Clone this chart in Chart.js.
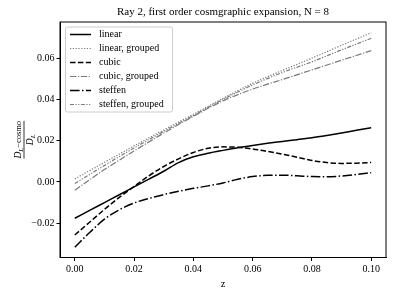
<!DOCTYPE html>
<html><head><meta charset="utf-8">
<script src="https://cdn.jsdelivr.net/npm/chart.js@4.4.1/dist/chart.umd.min.js"></script>
<style>html,body{margin:0;padding:0;background:#fff}#wrap{width:396px;height:297px}</style>
</head><body><div id="wrap"><canvas id="c" width="396" height="297"></canvas></div>
<script>
const titleText = 'Ray 2, first order cosmgraphic expansion, N = 8';
const xAxisLabel = 'z';
const xTicks = [0, 0.02, 0.04, 0.06, 0.08, 0.10];
const yTicks = [-0.02, 0, 0.02, 0.04, 0.06];
const seriesNames = ['linear', 'linear, grouped', 'cubic', 'cubic, grouped', 'steffen', 'steffen, grouped'];

const zFine = [0, 0.005, 0.01, 0.015, 0.02, 0.025, 0.03, 0.035, 0.04, 0.045, 0.05,
               0.055, 0.06, 0.065, 0.07, 0.075, 0.08, 0.085, 0.09, 0.095, 0.1];
const linearVals  = [-0.0176, -0.0138, -0.0100, -0.0062, -0.0024, 0.0014, 0.0052, 0.0094, 0.0122, 0.0139, 0.0153,
                     0.0166, 0.0177, 0.0187, 0.0196, 0.0205, 0.0214, 0.0225, 0.0237, 0.0250, 0.0263];
const cubicVals   = [-0.0257, -0.0195, -0.0133, -0.0075, -0.0022, 0.0030, 0.0075, 0.0112, 0.0143, 0.0163, 0.0170,
                     0.0168, 0.0160, 0.0148, 0.0135, 0.0120, 0.0104, 0.0094, 0.0090, 0.0091, 0.0094];
const steffenVals = [-0.0316, -0.0245, -0.0180, -0.0135, -0.0102, -0.0080, -0.0061, -0.0045, -0.0031, -0.0019, -0.0005,
                     0.0013, 0.0026, 0.0032, 0.0033, 0.0030, 0.0026, 0.0025, 0.0029, 0.0036, 0.0045];

const zCoarse = [0, 0.01, 0.02, 0.03, 0.04, 0.05, 0.06, 0.07, 0.08, 0.09, 0.1];
const linearGroupedVals  = [0.0015, 0.0095, 0.0175, 0.0252, 0.0328, 0.0405, 0.0478, 0.0540, 0.0600, 0.0662, 0.0723];
const cubicGroupedVals   = [-0.0040, 0.0060, 0.0150, 0.0237, 0.0318, 0.0393, 0.0450, 0.0496, 0.0543, 0.0590, 0.0636];
const steffenGroupedVals = [-0.0008, 0.0080, 0.0165, 0.0245, 0.0322, 0.0400, 0.0470, 0.0530, 0.0582, 0.0640, 0.0696];

const SERIF = '"Liberation Serif", "DejaVu Serif", serif';
const pts = (xs, ys) => xs.map((x, i) => ({x: x, y: ys[i]}));

const styles = [
  {c: '#000000', w: 1.5, d: []},
  {c: '#7a7a7a', w: 1.2, d: [1.2, 1.6]},
  {c: '#000000', w: 1.5, d: [5.5, 2.4]},
  {c: '#7a7a7a', w: 1.2, d: [6.4, 1.6, 1.2, 1.6]},
  {c: '#000000', w: 1.5, d: [9.6, 2.4, 1.5, 2.4]},
  {c: '#7a7a7a', w: 1.2, d: [4, 1.5, 1.2, 1.5, 1.2, 1.5]}
];
const dataArrays = [
  pts(zFine, linearVals), pts(zCoarse, linearGroupedVals),
  pts(zFine, cubicVals), pts(zCoarse, cubicGroupedVals),
  pts(zFine, steffenVals), pts(zCoarse, steffenGroupedVals)
];

const datasets = seriesNames.map((n, i) => ({
  label: n, data: dataArrays[i], borderColor: styles[i].c, borderWidth: styles[i].w,
  borderDash: styles[i].d, pointRadius: 0, fill: false, tension: 0.3, cubicInterpolationMode: 'monotone'
}));

const decor = {
  id: 'decor',
  afterDraw(chart) {
    const ctx = chart.ctx, a = chart.chartArea;
    ctx.save();
    ctx.strokeStyle = '#000'; ctx.lineWidth = 1; ctx.setLineDash([]);
    ctx.strokeRect(a.left, a.top, a.right - a.left, a.bottom - a.top);
    ctx.fillStyle = '#000'; ctx.textAlign = 'center'; ctx.textBaseline = 'middle';
    ctx.font = '11px ' + SERIF;
    ctx.fillText(titleText, (a.left + a.right) / 2, 12);
    ctx.font = '10.5px ' + SERIF;
    ctx.fillText(xAxisLabel, (a.left + a.right) / 2, 284);
    ctx.save();
    ctx.translate(24, (a.top + a.bottom) / 2);
    ctx.rotate(-Math.PI / 2);
    ctx.textBaseline = 'alphabetic';
    ctx.textAlign = 'left';
    const numParts = [['italic 9.5px ' + SERIF, 'D', 0], ['italic 7px ' + SERIF, 'L', 2], ['8.5px ' + SERIF, '\u2212cosmo', 0]];
    let w = 0;
    numParts.forEach(p => { ctx.font = p[0]; w += ctx.measureText(p[1]).width; });
    let x = -w / 2;
    numParts.forEach(p => { ctx.font = p[0]; ctx.fillText(p[1], x, -3 + p[2]); x += ctx.measureText(p[1]).width; });
    ctx.fillRect(-w / 2, -0.4, w, 0.8);
    const denParts = [['italic 9.5px ' + SERIF, 'D', 0], ['italic 7px ' + SERIF, 'L', 2]];
    let w2 = 0;
    denParts.forEach(p => { ctx.font = p[0]; w2 += ctx.measureText(p[1]).width; });
    x = -w2 / 2;
    denParts.forEach(p => { ctx.font = p[0]; ctx.fillText(p[1], x, 8.5 + p[2]); x += ctx.measureText(p[1]).width; });
    ctx.restore();
    const lx = 65.5, ly = 27, lw = 107, lh = 85;
    ctx.fillStyle = 'rgba(255,255,255,0.8)';
    ctx.strokeStyle = '#cccccc'; ctx.lineWidth = 1;
    ctx.beginPath();
    if (ctx.roundRect) ctx.roundRect(lx, ly, lw, lh, 2); else ctx.rect(lx, ly, lw, lh);
    ctx.fill(); ctx.stroke();
    ctx.font = '10px ' + SERIF; ctx.textAlign = 'left'; ctx.textBaseline = 'middle';
    seriesNames.forEach((n, i) => {
      const y = 34.5 + i * 14;
      ctx.strokeStyle = styles[i].c; ctx.lineWidth = styles[i].w; ctx.setLineDash(styles[i].d);
      ctx.beginPath(); ctx.moveTo(70, y); ctx.lineTo(91, y); ctx.stroke();
      ctx.setLineDash([]);
      ctx.fillStyle = '#000';
      ctx.fillText(n, 99, y);
    });
    ctx.restore();
  }
};

const fmt = v => { const s = Number(v).toFixed(2); return s.replace('-', '\u2212'); };

new Chart(document.getElementById('c'), {
  type: 'line',
  data: {datasets: datasets},
  options: {
    responsive: false, animation: false, devicePixelRatio: 1,
    layout: {padding: {top: 22, left: 0, right: 10, bottom: 0}},
    plugins: {legend: {display: false}, tooltip: {enabled: false}, title: {display: false}},
    scales: {
      x: {
        type: 'linear', min: -0.005, max: 0.105,
        afterFit: s => { s.height = 39.5; },
        afterBuildTicks: s => { s.ticks = xTicks.map(v => ({value: v})); },
        grid: {drawOnChartArea: false, drawTicks: true, tickLength: 3.5, tickColor: '#000'},
        border: {display: true, color: '#000', width: 1},
        ticks: {color: '#000', font: {family: SERIF, size: 10}, padding: 2, maxRotation: 0, callback: fmt}
      },
      y: {
        type: 'linear', min: -0.0366, max: 0.0775,
        afterFit: s => { s.width = 60; },
        afterBuildTicks: s => { s.ticks = yTicks.map(v => ({value: v})); },
        grid: {drawOnChartArea: false, drawTicks: true, tickLength: 3.5, tickColor: '#000'},
        border: {display: true, color: '#000', width: 1},
        ticks: {color: '#000', font: {family: SERIF, size: 10}, padding: 2, callback: fmt}
      }
    }
  },
  plugins: [decor]
});
</script>
</body></html>
